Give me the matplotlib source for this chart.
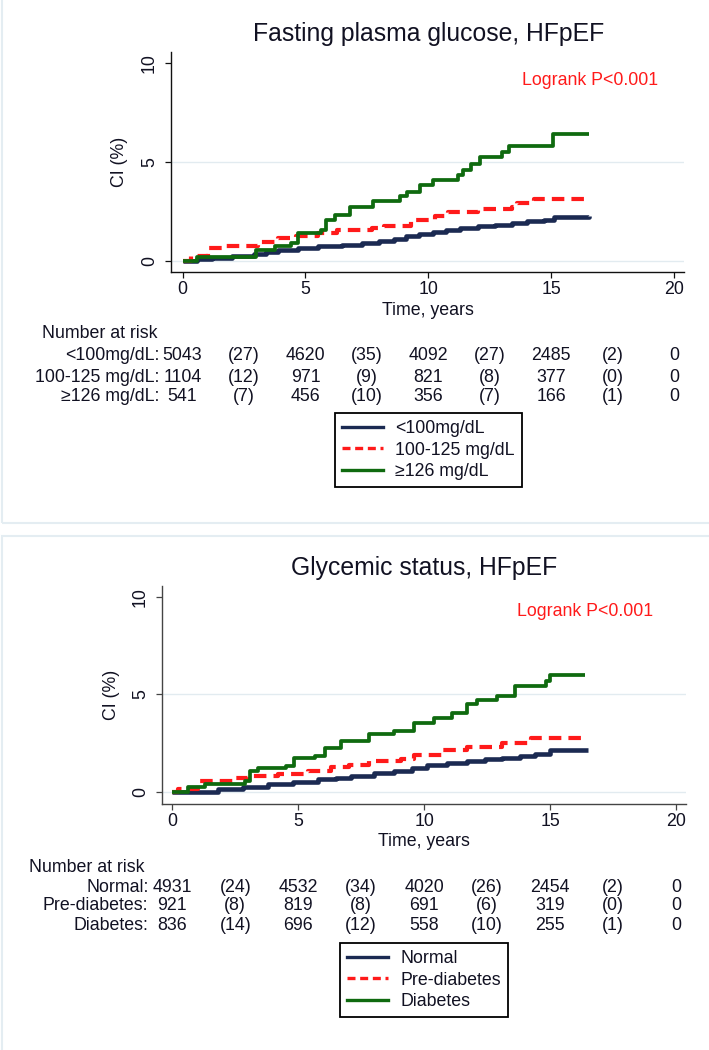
import numpy as np
import matplotlib.pyplot as plt
import matplotlib.transforms as mtransforms
from matplotlib.lines import Line2D
from matplotlib.patches import Rectangle

plt.rcParams['font.family'] = ['Liberation Sans', 'DejaVu Sans']

# ---- data ----
# panel 1: fasting plasma glucose
fpg_groups = ['<100mg/dL', '100-125 mg/dL', '\u2265126 mg/dL']
fpg_t_lo = [0, 0.6, 1.2, 2.0, 2.9, 3.4, 3.9, 4.7, 5.5, 6.5, 7.3, 8.0, 8.6, 9.1, 9.6,
            10.2, 10.7, 11.3, 12.0, 12.7, 13.4, 14.0, 14.7, 15.1, 16.55]
fpg_ci_lo = [0, 0.08, 0.17, 0.25, 0.33, 0.45, 0.55, 0.65, 0.75, 0.83, 0.92, 1.0, 1.1, 1.25, 1.38,
             1.48, 1.58, 1.67, 1.75, 1.83, 1.92, 2.0, 2.08, 2.2, 2.25]
fpg_t_mid = [0, 0.35, 1.04, 1.7, 3.07, 3.9, 4.6, 5.5, 6.3, 7.7, 8.2, 9.3, 10.25, 10.8,
             12.0, 13.4, 13.6, 14.3, 16.45]
fpg_ci_mid = [0, 0.25, 0.67, 0.75, 0.95, 1.17, 1.25, 1.42, 1.58, 1.67, 1.78, 2.08, 2.25, 2.5,
              2.62, 2.75, 2.95, 3.13, 3.13]
fpg_t_hi = [0, 0.6, 3.0, 3.75, 4.4, 4.7, 5.65, 5.85, 6.2, 6.8, 7.75, 8.85, 9.15, 9.65, 10.2,
            11.2, 11.4, 11.75, 12.1, 13.0, 13.3, 15.06, 16.55]
fpg_ci_hi = [0, 0.22, 0.58, 0.75, 0.92, 1.42, 1.58, 2.08, 2.33, 2.75, 3.03, 3.28, 3.5, 3.83, 4.08,
             4.33, 4.58, 4.92, 5.25, 5.5, 5.83, 6.42, 6.42]
fpg_risk = [['5043', '(27)', '4620', '(35)', '4092', '(27)', '2485', '(2)', '0'],
            ['1104', '(12)', '971', '(9)', '821', '(8)', '377', '(0)', '0'],
            ['541', '(7)', '456', '(10)', '356', '(7)', '166', '(1)', '0']]

# panel 2: glycemic status
gly_groups = ['Normal', 'Pre-diabetes', 'Diabetes']
gly_t_lo = [0, 0.62, 1.8, 2.8, 3.8, 4.8, 5.8, 6.5, 7.1, 8.0, 8.8, 9.5, 10.1, 10.9, 11.7,
            12.4, 13.1, 13.8, 14.4, 15.0, 16.5]
gly_ci_lo = [0, 0.02, 0.14, 0.27, 0.39, 0.52, 0.65, 0.73, 0.82, 0.95, 1.08, 1.23, 1.38, 1.48, 1.59,
             1.68, 1.76, 1.85, 1.93, 2.13, 2.13]
gly_t_mid = [0, 0.23, 1.0, 2.5, 3.0, 4.2, 5.4, 6.3, 7.0, 7.8, 9.1, 9.6, 10.7, 11.7, 13.1, 14.25, 16.4]
gly_ci_mid = [0, 0.14, 0.56, 0.73, 0.82, 0.9, 1.08, 1.28, 1.4, 1.59, 1.67, 1.89, 2.13, 2.3, 2.53,
              2.78, 2.78]
gly_t_hi = [0, 0.62, 1.3, 2.9, 3.07, 3.4, 4.5, 4.85, 5.65, 6.05, 6.7, 7.8, 8.8, 9.6, 10.4, 11.1,
            11.7, 12.1, 12.9, 13.6, 14.85, 15.0, 16.4]
gly_ci_hi = [0, 0.26, 0.43, 0.56, 1.08, 1.25, 1.33, 1.76, 1.84, 2.27, 2.6, 2.99, 3.12, 3.55, 3.77,
             4.06, 4.49, 4.74, 4.91, 5.43, 5.68, 6.02, 6.02]
gly_risk = [['4931', '(24)', '4532', '(34)', '4020', '(26)', '2454', '(2)', '0'],
            ['921', '(8)', '819', '(8)', '691', '(6)', '319', '(0)', '0'],
            ['836', '(14)', '696', '(12)', '558', '(10)', '255', '(1)', '0']]

risk_times = [0, 2.5, 5, 7.5, 10, 12.5, 15, 17.5, 20]
xticks = [0, 5, 10, 15, 20]
yticks = [0, 5, 10]

# ---- styling ----
W, H = 709, 1050
colors = ['#1b2a52', '#ff1a1a', '#0f6a0f']
widths = [3.3, 3.0, 2.7]
styles = ['-', (0, (3, 1.7)), '-']
txt = '#111122'
fs = 12.8

def fx(px):
    return px / W

def fy(py):
    return 1 - py / H

fig = plt.figure(figsize=(W / 100, H / 100), dpi=100)
fig.patch.set_facecolor('white')


def panel(lay, title, groups, curves, risk):
    l, r, t, b = lay['axes']
    ax = fig.add_axes([fx(l), fy(b), fx(r) - fx(l), fy(t) - fy(b)])
    ax.set_xlim(*lay['xlim'])
    ax.set_ylim(*lay['ylim'])
    for s in ['top', 'right']:
        ax.spines[s].set_visible(False)
    for s in ['left', 'bottom']:
        ax.spines[s].set_color(lay['axcol'])
        ax.spines[s].set_linewidth(1.0)
    ax.set_xticks(xticks)
    ax.set_yticks(yticks)
    ax.tick_params(length=4.5, width=0.9, color=lay['axcol'], labelsize=fs,
                   labelcolor=txt, direction='out')
    ax.tick_params(axis='x', pad=2)
    ax.tick_params(axis='y', pad=5)
    plt.setp(ax.get_yticklabels(), rotation=90, va='center')
    for g in [0, 5]:
        ax.axhline(g, color='#e2ebf0', lw=1.0, zorder=0)

    for (tt, cc), c, w, ls in zip(curves, colors, widths, styles):
        ax.plot(tt, cc, drawstyle='steps-post', color=c, lw=w, linestyle=ls,
                solid_capstyle='butt', dash_capstyle='butt')

    ax.text(lay['logrank'][0], lay['logrank'][1], 'Logrank P<0.001', color='#ff1a1a',
            fontsize=fs, ha='left', va='center')

    tr = mtransforms.blended_transform_factory(ax.transData, fig.transFigure)
    fig.text(10, fy(lay['title']), title, transform=tr, ha='center', va='center',
             fontsize=17.8, color=txt)
    fig.text(10, fy(lay['xlabel']), 'Time, years', transform=tr, ha='center',
             va='center', fontsize=fs, color=txt)
    fig.text(fx(lay['ylabel']), fy((t + b) / 2), 'CI (%)', rotation=90, ha='center',
             va='center', fontsize=fs, color=txt)

    fig.text(-5.7, fy(lay['nar']), 'Number at risk', transform=tr, ha='left',
             va='center', fontsize=fs, color=txt)
    for name, row, py in zip(groups, risk, lay['rows']):
        fig.text(-0.95, fy(py), name + ':', transform=tr, ha='right', va='center',
                 fontsize=fs, color=txt)
        for xt, val in zip(risk_times, row):
            fig.text(xt, fy(py), val, transform=tr, ha='center', va='center',
                     fontsize=fs, color=txt)

    handles = [Line2D([], [], color=c, lw=2.4, linestyle=ls)
               for c, ls in zip(colors, ['-', (0, (2.4, 1.4)), '-'])]
    leg = fig.legend(handles, groups, loc='upper left',
                     bbox_to_anchor=(fx(lay['legend'][0]), fy(lay['legend'][1])),
                     bbox_transform=fig.transFigure, fontsize=fs, frameon=True,
                     fancybox=False, edgecolor='black', framealpha=1,
                     handlelength=2.3, handletextpad=0.7, borderpad=0.4,
                     labelspacing=0.25, borderaxespad=0)
    leg.get_frame().set_linewidth(1.3)
    for tx in leg.get_texts():
        tx.set_color(txt)

    x0, y0, x1, y1 = lay['border']
    fig.patches.append(Rectangle((fx(x0), fy(y1)), fx(x1) - fx(x0), fy(y0) - fy(y1),
                                 transform=fig.transFigure, fill=False,
                                 edgecolor='#e4edf2', lw=1.5))
    return ax


top = dict(axes=(171, 684, 52, 272), xlim=(-0.47, 20.4), ylim=(-0.556, 10.56),
           axcol='#111111', logrank=(13.8, 9.14), title=34, xlabel=310, ylabel=120,
           nar=334, rows=(355, 377, 397), legend=(335, 413),
           border=(1.7, -10, 740, 522.7))
bottom = dict(axes=(162, 686, 586, 804), xlim=(-0.41, 20.4), ylim=(-0.615, 10.56),
              axcol='#444444', logrank=(13.7, 9.23), title=568, xlabel=842, ylabel=111,
              nar=867, rows=(887, 906, 925), legend=(340, 943),
              border=(1.7, 535.7, 740, 1060))

panel(top, 'Fasting plasma glucose, HFpEF', fpg_groups,
      [(fpg_t_lo, fpg_ci_lo), (fpg_t_mid, fpg_ci_mid), (fpg_t_hi, fpg_ci_hi)], fpg_risk)
panel(bottom, 'Glycemic status, HFpEF', gly_groups,
      [(gly_t_lo, gly_ci_lo), (gly_t_mid, gly_ci_mid), (gly_t_hi, gly_ci_hi)], gly_risk)

fig.savefig('out.png', dpi=100, facecolor='white')
